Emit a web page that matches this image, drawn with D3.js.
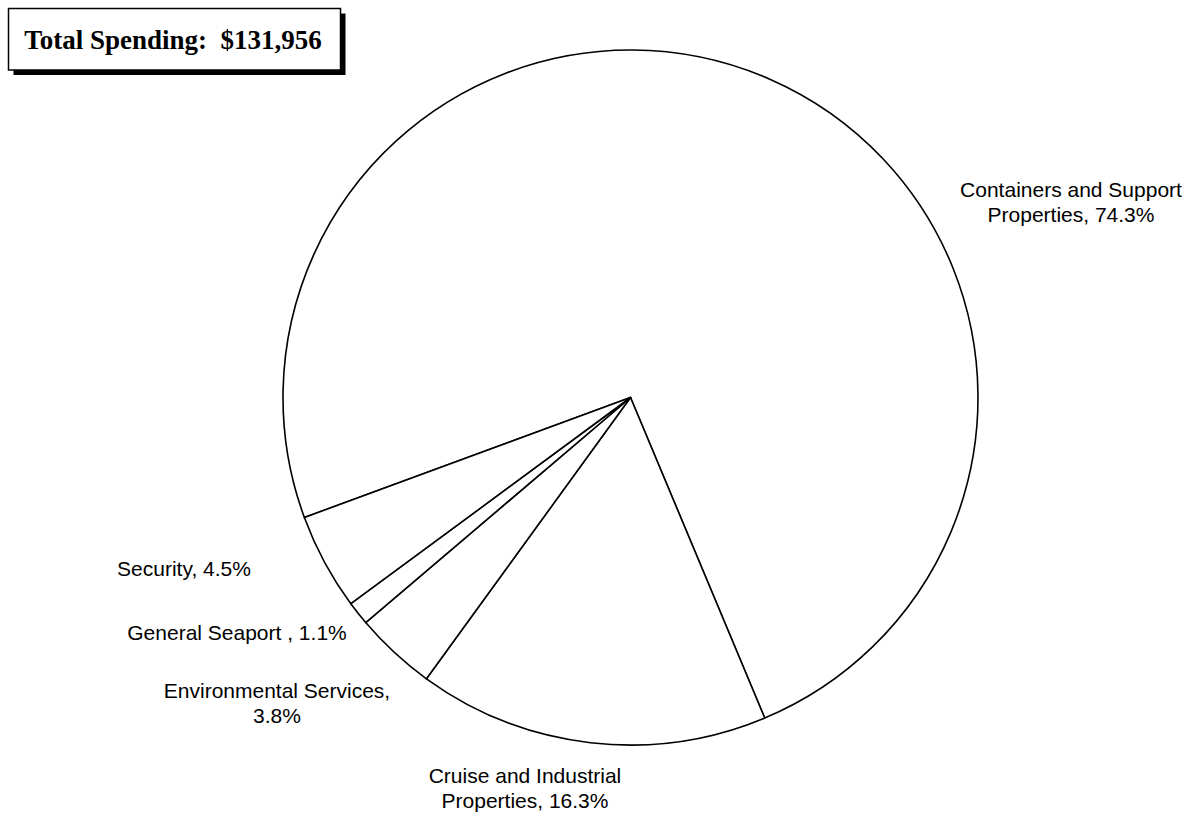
<!DOCTYPE html>
<html>
<head>
<meta charset="utf-8">
<script src="https://cdn.jsdelivr.net/npm/d3@7"></script>
<style>
  body { margin: 0; background: #fff; }
  svg { display: block; }
</style>
</head>
<body>
<div id="chart"></div>
<script>
// Chart data
var categories = ["Containers and Support Properties", "Cruise and Industrial Properties",
                  "Environmental Services", "General Seaport ", "Security"];
var shares = [74.3, 16.3, 3.8, 1.1, 4.5];
var totalLabel = "Total Spending:  $131,956";

// label lines and where each label sits (layout only)
var labelLines = [
    ["Containers and Support", "Properties, 74.3%"],
    ["Cruise and Industrial", "Properties, 16.3%"],
    ["Environmental Services,", "3.8%"],
    ["General Seaport , 1.1%"],
    ["Security, 4.5%"]
];
var labelPos = [[1071, 197], [525, 783], [277, 698], [237, 640], [184, 576]];

var width = 1191, height = 813;
var cx = 630.5, cy = 397.5, radius = 347.5;

var svg = d3.select("#chart")
    .append("svg")
    .attr("width", width)
    .attr("height", height);

var pieData = categories.map(function(c, i) {
    return { label: c, value: shares[i], lines: labelLines[i], pos: labelPos[i] };
});

// Pie layout, slices in drawing order starting lower left
var startDeg = -110.2;
var pie = d3.pie()
    .value(function(d) { return d.value; })
    .sort(null)
    .startAngle(startDeg * Math.PI / 180)
    .endAngle((startDeg + 360) * Math.PI / 180);

var arc = d3.arc()
    .innerRadius(0)
    .outerRadius(radius);

var g = svg.append("g")
    .attr("transform", "translate(" + cx + "," + cy + ")");

g.selectAll(".slice")
    .data(pie(pieData))
    .enter().append("path")
    .attr("class", "slice")
    .attr("d", arc)
    .attr("fill", "#fff")
    .attr("stroke", "#000")
    .attr("stroke-width", 1.6)
    .attr("stroke-linejoin", "round");

// Slice labels
var labels = svg.selectAll(".label")
    .data(pieData)
    .enter().append("text")
    .attr("class", "label")
    .attr("text-anchor", "middle")
    .attr("font-family", "Arial, 'Liberation Sans', sans-serif")
    .attr("font-size", "21px")
    .attr("fill", "#000")
    .style("white-space", "pre");

labels.each(function(d) {
    var t = d3.select(this);
    d.lines.forEach(function(line, i) {
        t.append("tspan")
            .attr("x", d.pos[0])
            .attr("y", d.pos[1] + i * 25)
            .text(line);
    });
});

// Total box with drop shadow
var box = svg.append("g");
box.append("rect")
    .attr("x", 13.5).attr("y", 13.5)
    .attr("width", 332).attr("height", 61.5)
    .attr("fill", "#000");
box.append("rect")
    .attr("x", 8.5).attr("y", 8.5)
    .attr("width", 332).attr("height", 61.5)
    .attr("fill", "#fff")
    .attr("stroke", "#000")
    .attr("stroke-width", 1.5);
box.append("text")
    .attr("x", 173)
    .attr("y", 48.5)
    .attr("text-anchor", "middle")
    .attr("font-family", "'Times New Roman', 'Liberation Serif', serif")
    .attr("font-weight", "bold")
    .attr("font-size", "27px")
    .style("white-space", "pre")
    .text(totalLabel);
</script>
</body>
</html>
